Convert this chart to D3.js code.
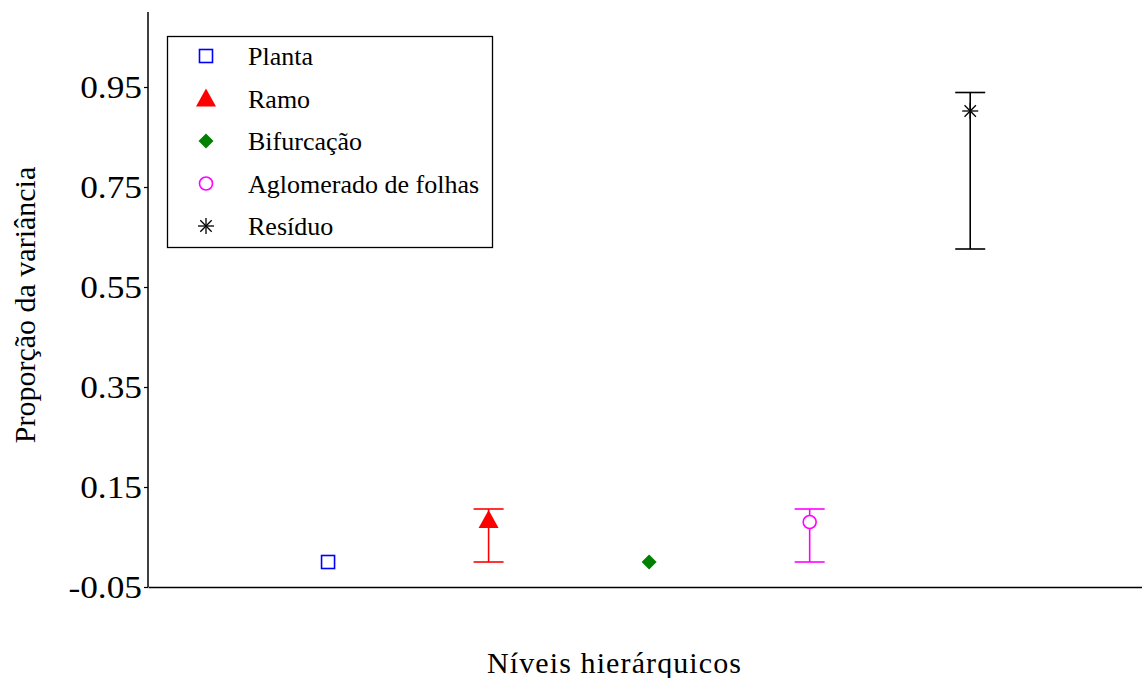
<!DOCTYPE html>
<html><head><meta charset="utf-8">
<script src="https://cdn.jsdelivr.net/npm/d3@7"></script>
<style>body{margin:0;background:#fff}svg{display:block}text{font-family:"Liberation Serif","Times New Roman",serif}</style>
</head><body>
<svg id="c" width="1142" height="678"></svg>
<script>
const categories = ["Planta","Ramo","Bifurcação","Aglomerado de folhas","Resíduo"];
const positions = [1,2,3,4,5];
const values = [0.0, 0.084, 0.0, 0.080, 0.902];
const lower = [null, 0.0, null, 0.0, 0.626];
const upper = [null, 0.106, null, 0.106, 0.939];
const colors = ["#0000ff","#ff0000","#008000","#ff00ff","#000000"];
const symbolsKind = ["square","triangle","diamond","circle","asterisk"];
const yTicks = [-0.05,0.15,0.35,0.55,0.75,0.95];
const yTickLabels = ["-0.05","0.15","0.35","0.55","0.75","0.95"];

const svg = d3.select("#c");
const x = d3.scaleLinear().domain([-0.1215, 6.07]).range([148, 1142]);
const y = d3.scaleLinear().domain([-0.05, 1.10]).range([587, 12]);
const FONT = "'Liberation Serif','Times New Roman',serif";

// axes
const yAxis = d3.axisLeft(y).tickValues(yTicks).tickSize(4).tickFormat((d,i) => yTickLabels[i]);
const gy = svg.append("g").attr("transform","translate(148,0)").call(yAxis)
  .attr("font-family",FONT).attr("font-size",31);
gy.select(".domain").attr("stroke","#000").attr("stroke-width",1.5).attr("d","M0,12V587");
gy.selectAll(".tick line").attr("stroke","#000").attr("stroke-width",1.2);
gy.selectAll(".tick text").attr("x",-6).attr("dy","0.35em").attr("fill","#000")
  .each(function(){
    const w = this.getComputedTextLength();
    d3.select(this).attr("textLength", w*1.14).attr("lengthAdjust","spacingAndGlyphs");
  });

const xAxis = d3.axisBottom(x).tickValues([]).tickSizeOuter(0);
const gx = svg.append("g").attr("transform","translate(0,587)").call(xAxis);
gx.select(".domain").attr("stroke","#000").attr("stroke-width",1.5);

// titles
svg.append("text").attr("x",487).attr("y",673).attr("font-size",30)
  .attr("textLength",254).attr("lengthAdjust","spacing").text("Níveis hierárquicos");
svg.append("text").attr("transform","translate(35,305) rotate(-90)").attr("text-anchor","middle")
  .attr("font-size",30).text("Proporção da variância");

function drawSymbol(g, kind, cx, cy, color) {
  if (kind === "square") {
    g.append("rect").attr("x",cx-6.5).attr("y",cy-6.5).attr("width",13).attr("height",13)
      .attr("fill","none").attr("stroke",color).attr("stroke-width",1.6);
  } else if (kind === "triangle") {
    g.append("path").attr("d",`M${cx},${cy-10}L${cx+10},${cy+8}L${cx-10},${cy+8}Z`).attr("fill",color);
  } else if (kind === "diamond") {
    g.append("path").attr("d",`M${cx},${cy-7.5}L${cx+7.5},${cy}L${cx},${cy+7.5}L${cx-7.5},${cy}Z`).attr("fill",color);
  } else if (kind === "circle") {
    g.append("circle").attr("cx",cx).attr("cy",cy).attr("r",6.5)
      .attr("fill","#fff").attr("stroke",color).attr("stroke-width",1.6);
  } else {
    const r = 8, d = 5.7;
    const segs = [[-r,0,r,0],[0,-r,0,r],[-d,-d,d,d],[-d,d,d,-d]];
    segs.forEach(s => g.append("line").attr("x1",cx+s[0]).attr("y1",cy+s[1]).attr("x2",cx+s[2]).attr("y2",cy+s[3])
      .attr("stroke",color).attr("stroke-width",1.3));
  }
}

// error bars and points
const plot = svg.append("g");
categories.forEach((c,i) => {
  const cx = x(positions[i]);
  if (lower[i] !== null) {
    const g = plot.append("g").attr("stroke",colors[i]).attr("stroke-width",1.6);
    g.append("line").attr("x1",cx).attr("x2",cx).attr("y1",y(lower[i])).attr("y2",y(upper[i]));
    g.append("line").attr("x1",cx-15).attr("x2",cx+15).attr("y1",y(lower[i])).attr("y2",y(lower[i]));
    g.append("line").attr("x1",cx-15).attr("x2",cx+15).attr("y1",y(upper[i])).attr("y2",y(upper[i]));
  }
  drawSymbol(plot, symbolsKind[i], cx, y(values[i]), colors[i]);
});

// legend
const lg = svg.append("g");
lg.append("rect").attr("x",167.5).attr("y",36.5).attr("width",325).attr("height",211)
  .attr("fill","#fff").attr("stroke","#000").attr("stroke-width",1.3);
categories.forEach((c,i) => {
  const yy = 56 + i*42.5;
  drawSymbol(lg, symbolsKind[i], 206, yy, colors[i]);
  lg.append("text").attr("x",248).attr("y",yy+9).attr("font-size",26).text(c);
});
</script>
</body></html>
